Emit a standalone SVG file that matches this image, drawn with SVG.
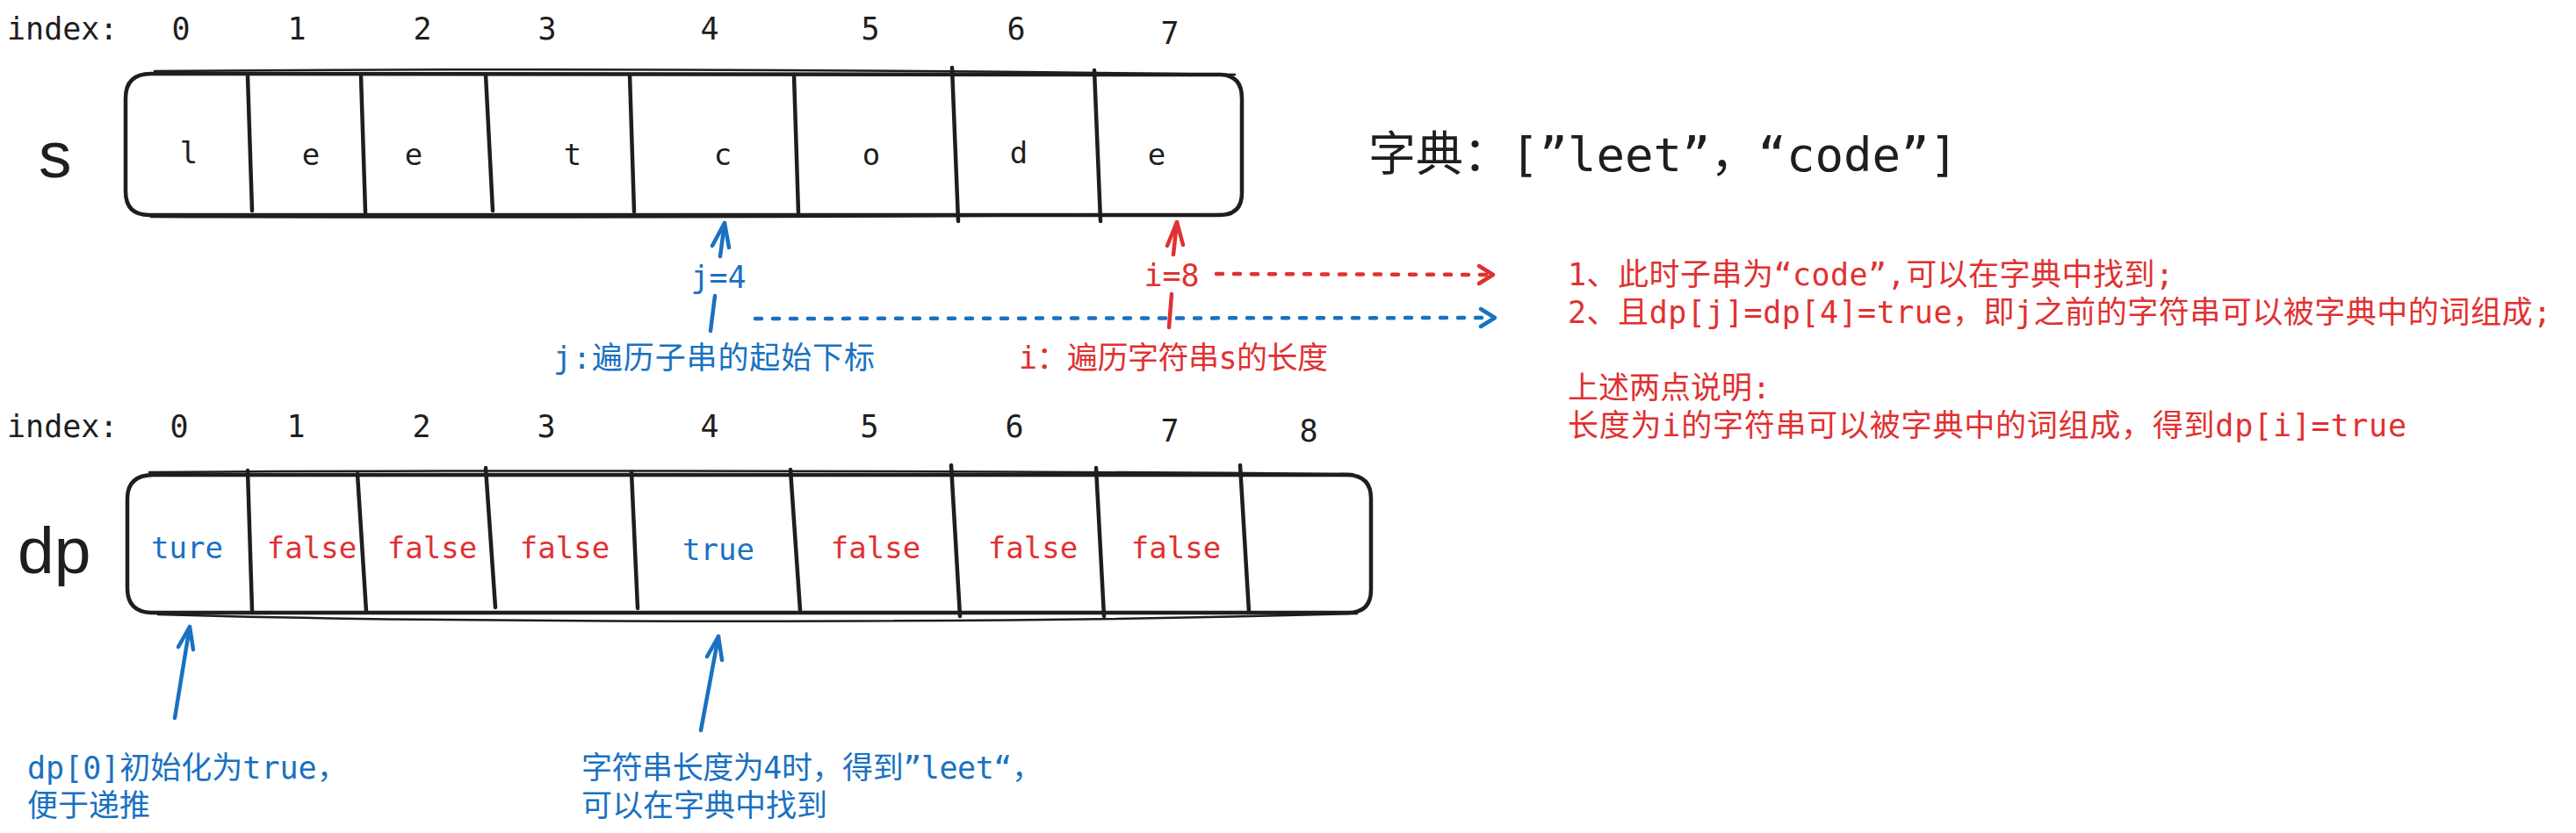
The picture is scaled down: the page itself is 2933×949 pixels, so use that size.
<svg xmlns="http://www.w3.org/2000/svg" width="2933" height="949" viewBox="0 0 2933 949">
<style>
.mono{font-family:"DejaVu Sans Mono","Noto Sans CJK SC",monospace;font-size:35px}
.cell{font-family:"DejaVu Sans Mono",monospace;font-size:34px;text-anchor:middle}
.big{font-family:"Liberation Sans",Arial,sans-serif;font-size:75px;fill:#1e1e1e}
.k{fill:#1e1e1e}
.b{fill:#1971c2}
.r{fill:#e03131}
.box{fill:none;stroke:#1e1e1e;stroke-width:4.5;stroke-linecap:round;stroke-linejoin:round}
.box2{fill:none;stroke:#1e1e1e;stroke-width:2.5;stroke-linecap:round}
.div{stroke:#1e1e1e;stroke-width:4.5;stroke-linecap:round}
.ab{fill:none;stroke:#1971c2;stroke-width:4.5;stroke-linecap:round;stroke-linejoin:round}
.ar{fill:none;stroke:#e03131;stroke-width:4.5;stroke-linecap:round;stroke-linejoin:round}
.dot{stroke-dasharray:7 13}
</style>
<rect width="2933" height="949" fill="#ffffff"/>

<g id="s-array">
  <text class="big" x="44" y="202">s</text>
  <g class="mono k">
    <text x="8" y="45">index:</text>
    <g style="text-anchor:middle">
      <text x="206" y="45">0</text><text x="338" y="45">1</text><text x="481" y="45">2</text><text x="623" y="45">3</text>
      <text x="808" y="45">4</text><text x="991" y="45">5</text><text x="1157" y="45">6</text><text x="1332" y="50">7</text>
    </g>
  </g>
  <path class="box" d="M172 84 L1390 85 Q1414 86 1414 112 L1414 220 Q1414 245 1388 245 L170 245 Q143 245 143 218 L143 112 Q143 84 172 84 Z"/>
  <path class="box2" d="M176 81 Q780 76 1406 85"/>
  <path class="box2" d="M172 247 Q800 249 1402 244"/>
  <g>
    <line class="div" x1="282" y1="87" x2="287" y2="240"/>
    <line class="div" x1="411" y1="87" x2="416" y2="242"/>
    <line class="div" x1="553" y1="85" x2="561" y2="240"/>
    <line class="div" x1="717" y1="85" x2="722" y2="241"/>
    <line class="div" x1="904" y1="85" x2="909" y2="242"/>
    <line class="div" x1="1084" y1="77" x2="1091" y2="252"/>
    <line class="div" x1="1246" y1="80" x2="1253" y2="252"/>
  </g>
  <g class="cell k">
    <text x="215" y="186">l</text><text x="354" y="188">e</text><text x="471" y="188">e</text><text x="652" y="188">t</text>
    <text x="823" y="188">c</text><text x="992" y="188">o</text><text x="1160" y="186">d</text><text x="1317" y="188">e</text>
  </g>
</g>

<g id="dictionary">
  <text x="1558" y="195" style="font-family:'DejaVu Sans Mono','Noto Sans CJK SC',monospace;font-size:54px;fill:#1e1e1e">字典：[”leet”，“code”]</text>
</g>

<g id="dp-array">
  <text class="big" x="20" y="653">dp</text>
  <g class="mono k">
    <text x="8" y="498">index:</text>
    <g style="text-anchor:middle">
      <text x="204" y="498">0</text><text x="337" y="498">1</text><text x="480" y="498">2</text><text x="622" y="498">3</text>
      <text x="808" y="498">4</text><text x="990" y="498">5</text><text x="1155" y="498">6</text><text x="1332" y="503">7</text><text x="1490" y="503">8</text>
    </g>
  </g>
  <path class="box" d="M175 541 L1535 541 Q1561 542 1561 568 L1561 672 Q1561 698 1535 698 L172 698 Q145 697 145 670 L145 568 Q145 541 175 541 Z"/>
  <path class="box2" d="M170 538 Q800 534 1540 540"/>
  <path class="box2" d="M180 700 C500 709 1100 712 1545 699"/>
  <g>
    <line class="div" x1="282" y1="536" x2="287" y2="695"/>
    <line class="div" x1="407" y1="540" x2="417" y2="697"/>
    <line class="div" x1="553" y1="533" x2="564" y2="692"/>
    <line class="div" x1="719" y1="538" x2="726" y2="693"/>
    <line class="div" x1="900" y1="535" x2="911" y2="695"/>
    <line class="div" x1="1083" y1="530" x2="1093" y2="702"/>
    <line class="div" x1="1248" y1="533" x2="1257" y2="702"/>
    <line class="div" x1="1412" y1="530" x2="1422" y2="697"/>
  </g>
  <g class="cell">
    <text class="b" x="213" y="636">ture</text>
    <text class="r" x="355" y="636">false</text>
    <text class="r" x="492" y="636">false</text>
    <text class="r" x="643" y="636">false</text>
    <text class="b" x="818" y="638">true</text>
    <text class="r" x="997" y="636">false</text>
    <text class="r" x="1176" y="636">false</text>
    <text class="r" x="1339" y="636">false</text>
  </g>
</g>

<g id="labels">
  <g class="mono">
    <text class="b" x="818" y="328" style="text-anchor:middle">j=4</text>
    <text class="r" x="1334" y="326" style="text-anchor:middle">i=8</text>
    <text class="b" x="630" y="420" textLength="366" lengthAdjust="spacing">j:遍历子串的起始下标</text>
    <text class="r" x="1160" y="420" textLength="352" lengthAdjust="spacing">i：遍历字符串s的长度</text>
    <text class="r" x="1785" y="325" textLength="690" lengthAdjust="spacing">1、此时子串为“code”,可以在字典中找到;</text>
    <text class="r" x="1785" y="368" textLength="1120" lengthAdjust="spacing">2、且dp[j]=dp[4]=true，即j之前的字符串可以被字典中的词组成;</text>
    <text class="r" x="1785" y="454">上述两点说明:</text>
    <text class="r" x="1785" y="497" textLength="955" lengthAdjust="spacing">长度为i的字符串可以被字典中的词组成，得到dp[i]=true</text>
    <text class="b" x="31" y="887">dp[0]初始化为true，</text>
    <text class="b" x="31" y="930">便于递推</text>
    <text class="b" x="662" y="887" textLength="525" lengthAdjust="spacing">字符串长度为4时，得到”leet“，</text>
    <text class="b" x="662" y="930">可以在字典中找到</text>
  </g>
</g>

<g id="connectors">
  <line class="ab" x1="820" y1="292" x2="825" y2="254"/>
  <polyline class="ab" points="811,280 825,254 830,282"/>
  <line class="ar" x1="1336" y1="290" x2="1340" y2="253"/>
  <polyline class="ar" points="1329,280 1340,253 1347,279"/>
  <line class="ab" x1="814" y1="337" x2="809" y2="377"/>
  <line class="ar" x1="1334" y1="335" x2="1331" y2="373"/>
  <line class="ab dot" x1="860" y1="363" x2="1696" y2="362"/>
  <polyline class="ab" points="1686,352 1702,362 1686,372"/>
  <line class="ar dot" x1="1385" y1="312" x2="1692" y2="313"/>
  <polyline class="ar" points="1684,303 1700,313 1684,323"/>
  <line class="ab" x1="199" y1="818" x2="216" y2="714"/>
  <polyline class="ab" points="203,737 216,714 220,740"/>
  <line class="ab" x1="798" y1="832" x2="818" y2="725"/>
  <polyline class="ab" points="805,748 818,725 822,752"/>
</g>
</svg>
